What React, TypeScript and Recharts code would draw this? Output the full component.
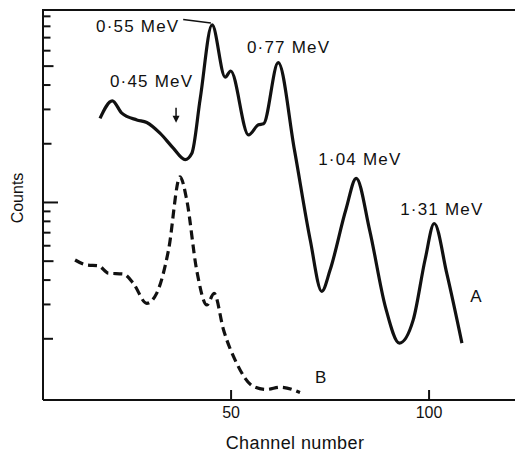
import React from 'react';
import { LineChart, Line, XAxis, YAxis, ReferenceLine, ReferenceDot } from 'recharts';

// curve A (solid) - channel / counts
const chA = [16.9, 20.0, 22.4, 26.2, 28.7, 32.1, 35.4, 38.4, 40.1, 42.2, 45.2, 48.5, 49.9, 54.4, 56.9, 58.2, 61.9, 66, 70, 72.9, 75, 79, 81.6, 85, 89, 92.5, 96, 99, 101.3, 104.5, 108.3];
const countA = [270, 332, 287, 265, 257, 226, 190, 166, 179, 340, 813, 439, 472, 222, 250, 253, 521, 186, 64, 35, 45, 92, 133, 72, 29, 19, 25, 51, 78, 43, 19];

// curve B (dashed)
const chB = [10.6, 13.6, 16.5, 19.0, 22.8, 25.3, 28.7, 31.2, 34.2, 37.1, 38.8, 41.3, 43.9, 45.7, 48.1, 51.4, 55.6, 59.0, 62.4, 67.4];
const countB = [50.7, 47.8, 47.4, 43.4, 43.0, 38.5, 30.4, 34.2, 57.0, 135.5, 103, 45.1, 29.8, 34.2, 22.2, 15.0, 11.4, 11.0, 11.3, 10.6];

const xTicks = [50, 100];
const yTicks = [20, 30, 40, 50, 60, 70, 80, 90, 100, 200, 300, 400, 500, 600, 700, 800, 900];
const xDomain = [2.5, 121.7];
const yDomain = [9.71, 970];

// text annotations, anchored at left/baseline in data coords
const annText = ['0·55 MeV', '0·45 MeV', '0·77 MeV', '1·04 MeV', '1·31 MeV', 'A', 'B'];
const annCh = [15.9, 19.4, 54.0, 72.0, 92.7, 110.4, 71.2];
const annCount = [748, 389, 585, 156, 86.3, 30.9, 11.9];

const FONT = '"Liberation Sans", Arial, Helvetica, sans-serif';
const INK = '#111';
const W = 515;
const H = 455;
const M = { top: 10, left: 43 };

const dataA = chA.map((ch, i) => ({ ch, count: countA[i] }));
const dataB = chB.map((ch, i) => ({ ch, count: countB[i] }));

const XTick = ({ x, y, payload }: any) => (
  <g>
    <line x1={x} x2={x} y1={y} y2={y - 10} stroke={INK} strokeWidth={2} />
    <text x={x} y={y + 18} textAnchor="middle" fontSize={16} fontFamily={FONT} fill={INK}>
      {payload.value}
    </text>
  </g>
);

const YTick = ({ x, y, payload }: any) => {
  const v = payload.value;
  let len = 7.5;
  if (v === 100) len = 15;
  else if (v === 50 || v === 500) len = 10.5;
  else if (v === 20) len = 10;
  else if (v === 200) len = 8.5;
  return <line x1={x} x2={x + len} y1={y} y2={y} stroke={INK} strokeWidth={2} />;
};

const Arrow = ({ cx, cy }: any) => (
  <g>
    <line x1={cx} x2={cx} y1={cy - 15} y2={cy - 5} stroke={INK} strokeWidth={1.5} />
    <path d={`M${cx - 3.5},${cy - 7} L${cx + 3.5},${cy - 7} L${cx},${cy} Z`} fill={INK} />
  </g>
);

export default function App() {
  return (
    <div style={{ position: 'absolute', left: 0, top: 0, width: W, height: H }}>
      <LineChart width={W} height={H} margin={{ top: M.top, right: 0, left: 0, bottom: 0 }}>
        <XAxis
          dataKey="ch"
          type="number"
          domain={xDomain}
          ticks={xTicks}
          interval={0}
          allowDataOverflow
          height={55}
          tickSize={0}
          tickMargin={0}
          tickLine={false}
          axisLine={{ stroke: INK, strokeWidth: 2 }}
          tick={<XTick />}
          label={{
            content: () => (
              <text x={295} y={449} textAnchor="middle" fontSize={18} letterSpacing={0.4} fontFamily={FONT} fill={INK}>
                Channel number
              </text>
            ),
          }}
        />
        <YAxis
          type="number"
          scale="log"
          domain={yDomain}
          ticks={yTicks}
          interval={0}
          allowDataOverflow
          width={M.left}
          tickSize={0}
          tickMargin={0}
          tickLine={false}
          axisLine={{ stroke: INK, strokeWidth: 2 }}
          tick={<YTick />}
          label={{
            content: () => (
              <text x={23} y={198} transform="rotate(-90 23 198)" textAnchor="middle" fontSize={16} fontFamily={FONT} fill={INK}>
                Counts
              </text>
            ),
          }}
        />
        <Line data={dataA} dataKey="count" type="monotone" stroke={INK} strokeWidth={3.2} dot={false} isAnimationActive={false} />
        <Line data={dataB} dataKey="count" type="monotone" stroke={INK} strokeWidth={3.2} strokeDasharray="9 5" dot={false} isAnimationActive={false} />
        <ReferenceLine segment={[{ x: 37.9, y: 867 }, { x: 44.9, y: 833 }]} stroke={INK} strokeWidth={1.5} />
        <ReferenceDot x={36.1} y={256} r={2} shape={(p: any) => <Arrow {...p} />} />
        {annText.map((t, i) => (
          <ReferenceDot
            key={t}
            x={annCh[i]}
            y={annCount[i]}
            r={2}
            shape={(p: any) => (
              <text x={p.cx} y={p.cy} fontSize={17} letterSpacing={t.length > 1 ? 1.2 : 0} fontFamily={FONT} fill={INK}>
                {t}
              </text>
            )}
          />
        ))}
      </LineChart>
      {/* top frame edge */}
      <div
        style={{
          position: 'absolute',
          left: M.left - 1,
          top: M.top - 1,
          width: W - M.left + 1,
          height: 2,
          background: INK,
        }}
      />
    </div>
  );
}
